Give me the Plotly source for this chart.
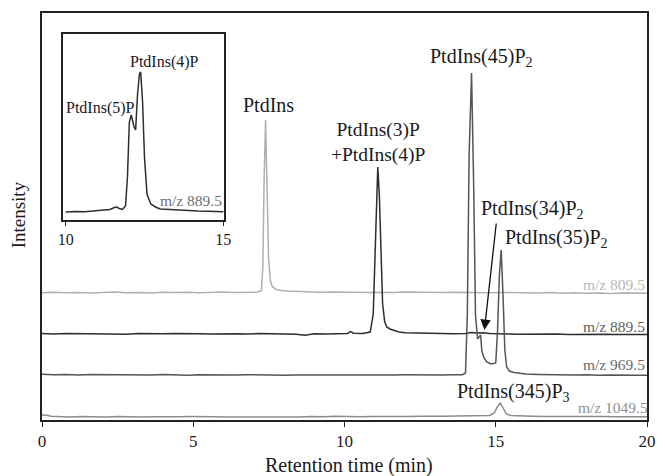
import plotly.graph_objects as go

# ---------------- data ----------------
# retention time (min) and intensity (arbitrary units) per extracted ion trace
t_809 = [0.0, 0.4, 0.8, 1.2, 1.6, 2.0, 2.4, 2.8, 3.2, 3.6, 4.0, 4.4, 4.8, 5.2, 5.6, 6.0, 6.4, 6.8,
         7.1, 7.25, 7.3, 7.34, 7.39, 7.44, 7.49, 7.55, 7.62, 7.75, 7.9, 8.1,
         8.4, 8.8, 9.2, 9.6, 10.0, 10.4, 10.8, 11.2, 11.6, 12.0, 12.4, 12.8, 13.2, 13.6, 14.0,
         14.4, 14.8, 15.2, 15.6, 16.0, 16.4, 16.8, 17.2, 17.6, 18.0, 18.4, 18.8, 19.2, 19.6, 20.0]
i_809 = [0.3, 0.8, 0.2, 0.6, 0.0, 0.5, 0.9, 0.3, 0.6, 0.1, 0.7, 0.4, 0.8, 0.2, 0.5, 0.9, 0.4, 0.7,
         0.8, 2, 25, 110, 173, 105, 35, 12, 6, 3.5, 2.5, 2,
         1.5, 1.2, 0.8, 1.0, 0.6, 0.9, 0.4, 0.8, 0.5, 1.0, 0.6, 0.9, 0.4, 0.8, 0.5,
         0.7, 0.3, 0.6, 0.2, 0.5, 0.0, 0.4, -0.2, 0.2, -0.3, 0.1, -0.4, 0.0, -0.3, -0.2]

t_889 = [0.0, 0.4, 0.8, 1.2, 1.6, 2.0, 2.4, 2.8, 3.2, 3.6, 4.0, 4.4, 4.8, 5.2, 5.6, 6.0, 6.4, 6.8,
         7.2, 7.6, 8.0, 8.4, 8.7, 9.0, 9.4, 9.8, 10.1, 10.2, 10.3, 10.6,
         10.85, 10.95, 11.0, 11.05, 11.1, 11.15, 11.2, 11.26, 11.33, 11.4, 11.5, 11.65, 11.8,
         12.0, 12.4, 12.8, 13.2, 13.6, 14.0, 14.2, 14.4, 14.6, 14.8, 15.0, 15.2, 15.4,
         15.8, 16.2, 16.6, 17.0, 17.4, 17.8, 18.2, 18.6, 19.0, 19.4, 19.8, 20.0]
i_889 = [0.5, 0.0, 0.4, 0.2, -0.2, 0.3, 0.0, -0.3, 0.4, 0.1, 0.3, 0.5, 0.0, 0.2, -0.1, 0.4, 0.3, 0.0,
         0.5, 0.2, 0.0, -0.2, -1.2, 0.2, 0.0, 0.1, 0.6, 2.5, 0.8, 0.5,
         2, 20, 70, 140, 167, 140, 80, 30, 12, 7, 5, 3.5, 2,
         1.2, 0.8, 0.6, 0.5, 0.3, 0.4, 1.5, 1.0, 1.2, 0.6, 0.2, 0.4, 0.0,
         -0.2, 0.1, -0.3, 0.0, -0.4, -0.2, -0.5, -0.3, -0.6, -0.4, -0.7, -0.6]

t_969 = [0.0, 0.4, 0.8, 1.2, 1.6, 2.0, 2.4, 2.8, 3.2, 3.6, 4.0, 4.4, 4.8, 5.2, 5.6, 6.0, 6.4, 6.8,
         7.2, 7.6, 8.0, 8.4, 8.8, 9.2, 9.6, 10.0, 10.4, 10.8, 11.2, 11.6, 12.0, 12.4, 12.8, 13.2, 13.6,
         13.9, 14.0, 14.06, 14.12, 14.2, 14.27, 14.33, 14.4, 14.46, 14.5, 14.54, 14.6, 14.7, 14.85, 15.0,
         15.06, 15.12, 15.18, 15.24, 15.3, 15.36, 15.45, 15.6, 15.8,
         16.0, 16.4, 16.8, 17.2, 17.6, 18.0, 18.4, 18.8, 19.2, 19.6, 20.0]
i_969 = [0.8, 0.3, 0.6, 0.0, 0.4, 0.2, 0.5, -0.1, 0.3, 0.0, 0.4, 0.1, -0.2, 0.3, 0.0, 0.2, -0.1, 0.3,
         0.0, 0.2, -0.2, 0.1, 0.0, 0.3, -0.1, 0.2, 0.0, -0.2, 0.1, 0.0, 0.2, -0.1, 0.1, 0.0, 0.2,
         0.3, 2, 60, 220, 302, 190, 60, 36, 38, 40, 24, 18, 13, 11, 12,
         45, 100, 125, 80, 25, 8, 4, 2.5, 1.5,
         1.0, 0.6, 0.2, 0.4, -0.1, 0.2, -0.3, 0.0, -0.4, -0.2, -0.3]

t_1049 = [0.0, 0.15, 0.3, 0.5, 0.9, 1.3, 1.7, 2.1, 2.5, 2.9, 3.3, 3.7, 4.1, 4.5, 4.9, 5.3, 5.7, 6.1,
          6.5, 6.9, 7.3, 7.7, 8.1, 8.5, 8.9, 9.3, 9.7, 10.1, 10.5, 10.9, 11.3, 11.7, 12.1, 12.5, 12.9,
          13.3, 13.7, 14.1, 14.5, 14.8, 14.95, 15.05, 15.15, 15.25, 15.35, 15.5,
          15.8, 16.2, 16.6, 17.0, 17.4, 17.8, 18.2, 18.6, 19.0, 19.4, 19.8, 20.0]
i_1049 = [2.0, 1.8, 0.8, 0.3, 0.0, 0.5, 0.2, 0.0, 0.4, 0.1, 0.0, 0.3, 0.0, 0.2, 0.4, 0.0, 0.3, 0.1,
          0.0, 0.4, 0.2, 0.0, 0.3, 0.1, 0.5, 0.2, 0.8, 0.3, 0.2, 0.6, 0.3, 0.5, 0.4, 0.8, 0.5,
          0.7, 0.9, 1.2, 1.0, 1.5, 4, 10, 14, 8, 3, 1.5,
          1.0, 0.8, 0.6, 0.7, 0.4, 0.5, 0.3, 0.4, 0.2, 0.3, 0.1, 0.2]

# inset: m/z 889.5, 10-15 min
t_inset = [10.0, 10.3, 10.6, 10.9, 11.2, 11.4, 11.55, 11.62, 11.7, 11.8, 11.9, 11.96, 12.02, 12.08,
           12.12, 12.17, 12.22, 12.28, 12.34, 12.38, 12.44, 12.5, 12.58, 12.7, 12.85, 13.0, 13.3,
           13.6, 13.9, 14.2, 14.5, 14.8, 15.0]
i_inset = [0, 0.5, 0.2, 1.0, 1.5, 2.5, 4.5, 5, 3.5, 2.5, 6, 35, 90, 97,
           92, 85, 82, 118, 138, 140, 110, 55, 18, 8, 5, 3, 2.5,
           1.8, 1.5, 1.0, 0.8, 0.5, 0.3]

trace_names = ["m/z 809.5", "m/z 889.5", "m/z 969.5", "m/z 1049.5"]
x_ticks = [0, 5, 10, 15, 20]
inset_ticks = [10, 15]

# ---------------- styling / layout ----------------
W, H = 665, 476
L, R, T, B = 42, 9, 13, 56
PW, PH = W - L - R, H - T - B
FONT = "Liberation Serif"

offsets = [127, 86, 45, 3]          # vertical stacking of traces
line_colors = ["#b0b0b0", "#2e2e2e", "#555555", "#8c8c8c"]
label_colors = ["#b8b8b8", "#606060", "#6a6a6a", "#909090"]

series = [(t_809, i_809), (t_889, i_889), (t_969, i_969), (t_1049, i_1049)]

fig = go.Figure()
for (tt, ii), off, col, name in zip(series, offsets, line_colors, trace_names):
    fig.add_trace(go.Scatter(x=tt, y=[v + off for v in ii], mode="lines",
                             line=dict(color=col, width=1.5), name=name,
                             xaxis="x", yaxis="y", showlegend=False))

fig.add_trace(go.Scatter(x=t_inset, y=i_inset, mode="lines",
                         line=dict(color="#2e2e2e", width=1.5), name="inset",
                         xaxis="x2", yaxis="y2", showlegend=False))


def px_x(p):
    return (p - L) / PW


def px_y(p):
    return (H - B - p) / PH


ann = []
# m/z labels (left edge positions)
label_px = [(589, 284), (589, 326), (589, 364), (584, 407)]
for name, (px, py), col in zip(trace_names, label_px, label_colors):
    ann.append(dict(x=px_x(px), y=px_y(py), xref="paper", yref="paper", text=name,
                    showarrow=False, xanchor="left", yanchor="middle",
                    font=dict(family=FONT, size=15.5, color=col)))

peak_labels = [
    ("PtdIns", 244, 105),
    ("PtdIns(45)P<sub>2</sub>", 434, 57),
    ("PtdIns(34)P<sub>2</sub>", 485, 210),
    ("PtdIns(35)P<sub>2</sub>", 510, 238),
    ("PtdIns(345)P<sub>3</sub>", 461, 392),
]
for txt, px, py in peak_labels:
    ann.append(dict(x=px_x(px), y=px_y(py), xref="paper", yref="paper", text=txt,
                    showarrow=False, xanchor="left", yanchor="middle",
                    font=dict(family=FONT, size=20, color="#1a1a1a")))
ann.append(dict(x=px_x(384), y=px_y(142), xref="paper", yref="paper",
                text="PtdIns(3)P<br>+PtdIns(4)P", showarrow=False,
                xanchor="center", yanchor="middle",
                font=dict(family=FONT, size=19.5, color="#1a1a1a")))

# arrow to PtdIns(34)P2 (head at 491,330 px; tail at 503,222 px)
ann.append(dict(x=px_x(491), y=px_y(330), ax=503 - 491, ay=222 - 330,
                xref="paper", yref="paper", axref="pixel", ayref="pixel",
                text="", showarrow=True, arrowhead=2, arrowsize=1.6, arrowwidth=1.3,
                arrowcolor="#111"))

inset_labels = [("PtdIns(4)P", 129, 62), ("PtdIns(5)P", 64, 108)]
for txt, px, py in inset_labels:
    ann.append(dict(x=px_x(px), y=px_y(py), xref="paper", yref="paper", text=txt,
                    showarrow=False, xanchor="left", yanchor="middle",
                    font=dict(family=FONT, size=16, color="#1a1a1a")))
ann.append(dict(x=px_x(160), y=px_y(200), xref="paper", yref="paper", text="m/z 889.5",
                showarrow=False, xanchor="left", yanchor="middle",
                font=dict(family=FONT, size=15.5, color="#707070")))

ann.append(dict(x=px_x(266), y=px_y(465), xref="paper", yref="paper",
                text="Retention time (min)", showarrow=False,
                xanchor="left", yanchor="middle",
                font=dict(family=FONT, size=20, color="#1a1a1a")))
ann.append(dict(x=px_x(18), y=px_y(215), xref="paper", yref="paper",
                text="Intensity", showarrow=False, textangle=-90,
                xanchor="center", yanchor="middle",
                font=dict(family=FONT, size=19, color="#1a1a1a")))

inset_x0, inset_x1 = px_x(63), px_x(227)
inset_y0, inset_y1 = px_y(220), px_y(34)

fig.update_layout(
    width=W, height=H,
    margin=dict(l=L, r=R, t=T, b=B),
    paper_bgcolor="white", plot_bgcolor="white",
    font=dict(family=FONT, color="#1a1a1a"),
    xaxis=dict(range=[0, 20], tickvals=x_ticks, ticks="outside", ticklen=5, tickwidth=1.3,
               tickcolor="#222", showline=True, linecolor="#222", linewidth=1.5, mirror=True,
               showgrid=False, zeroline=False, tickfont=dict(family=FONT, size=17, color="#1a1a1a")),
    yaxis=dict(range=[0, PH], showticklabels=False, ticks="", showline=True, linecolor="#222",
               linewidth=1.5, mirror=True, showgrid=False, zeroline=False),
    xaxis2=dict(domain=[inset_x0, inset_x1], anchor="y2", range=[10 - 3 / 32, 15 + 1 / 32],
                tickvals=inset_ticks, ticks="outside", ticklen=4, tickwidth=1.3, tickcolor="#222",
                showline=True, linecolor="#222", linewidth=1.5, mirror=True, showgrid=False,
                zeroline=False, tickfont=dict(family=FONT, size=16, color="#1a1a1a")),
    yaxis2=dict(domain=[inset_y0, inset_y1], anchor="x2", range=[-8, 178], showticklabels=False,
                ticks="", showline=True, linecolor="#222", linewidth=1.5, mirror=True,
                showgrid=False, zeroline=False),
    annotations=ann,
)

fig.write_html("out.html")
